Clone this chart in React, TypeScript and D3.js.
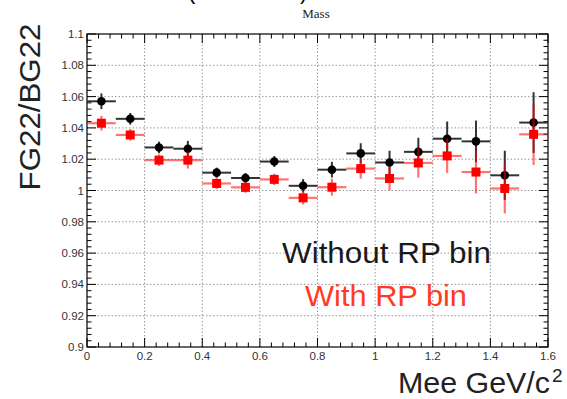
import React from "react";
import * as d3 from "d3";

const binCenters = [0.05, 0.15, 0.25, 0.35, 0.45, 0.55, 0.65, 0.75, 0.85, 0.95, 1.05, 1.15, 1.25, 1.35, 1.45, 1.55];
const binHalfWidth = 0.05;
const withoutRP = [1.057, 1.0458, 1.0275, 1.0267, 1.0114, 1.008, 1.0185, 1.003, 1.0133, 1.0237, 1.0179, 1.0247, 1.0331, 1.0314, 1.0097, 1.0434];
const withoutErr = [0.005, 0.0037, 0.0037, 0.005, 0.0032, 0.0032, 0.0035, 0.0043, 0.005, 0.0065, 0.0075, 0.009, 0.011, 0.0133, 0.0157, 0.0194];
const withRP = [1.043, 1.0355, 1.0194, 1.0194, 1.0045, 1.002, 1.0071, 0.9953, 1.0021, 1.014, 1.0077, 1.0176, 1.0221, 1.0118, 1.0013, 1.0359];
const withErr = [0.0047, 0.0037, 0.0037, 0.0054, 0.0035, 0.0035, 0.0037, 0.0043, 0.0054, 0.0065, 0.0077, 0.0094, 0.011, 0.0137, 0.016, 0.0196];
const xMajorTicks = [0, 0.2, 0.4, 0.6, 0.8, 1, 1.2, 1.4, 1.6];
const yMajorTicks = [0.9, 0.92, 0.94, 0.96, 0.98, 1, 1.02, 1.04, 1.06, 1.08, 1.1];

const W = 567, H = 399;
const L = 87, R = 548, T = 34, B = 347;

export default function App() {
  const x = d3.scaleLinear().domain([0, 1.6]).range([L, R]);
  const y = d3.scaleLinear().domain([0.9, 1.1]).range([B, T]);
  const xMinor = d3.range(0, 1.6001, 0.04);
  const yMinor = d3.range(0.9, 1.1001, 0.004);
  const fmt = d3.format("~g");
  const sans = "'Liberation Sans', Arial, sans-serif";
  const majLen = 9, minLen = 4.5;

  return (
    <svg width={W} height={H} style={{ position: "absolute", left: 0, top: 0, background: "#fff" }}>
      {/* partially cut top title */}
      <text x={188} y={-1} fontSize={22} fontFamily={sans} fill="#000">(</text>
      <text x={300} y={-1} fontSize={22} fontFamily={sans} fill="#000">)</text>
      <text x={316} y={18} fontSize={13} fontFamily="'Liberation Serif', 'DejaVu Serif', serif" textAnchor="middle" fill="#222">Mass</text>

      {/* grid */}
      <g stroke="#999" strokeWidth={1} strokeDasharray="1.5,2">
        {xMajorTicks.slice(1, -1).map((t) => (
          <line key={"gx" + t} x1={x(t)} x2={x(t)} y1={T} y2={B} />
        ))}
        {yMajorTicks.slice(1, -1).map((t) => (
          <line key={"gy" + t} x1={L} x2={R} y1={y(t)} y2={y(t)} />
        ))}
      </g>

      {/* ticks */}
      <g stroke="#000" strokeWidth={1}>
        {xMinor.map((t, i) => {
          const len = i % 5 === 0 ? majLen : minLen;
          return (
            <g key={"tx" + i}>
              <line x1={x(t)} x2={x(t)} y1={B} y2={B - len} />
              <line x1={x(t)} x2={x(t)} y1={T} y2={T + len} />
            </g>
          );
        })}
        {yMinor.map((t, i) => {
          const len = i % 5 === 0 ? majLen : minLen;
          return (
            <g key={"ty" + i}>
              <line x1={L} x2={L + len} y1={y(t)} y2={y(t)} />
              <line x1={R} x2={R - len} y1={y(t)} y2={y(t)} />
            </g>
          );
        })}
      </g>

      {/* frame */}
      <rect x={L} y={T} width={R - L} height={B - T} fill="none" stroke="#000" strokeWidth={1.2} />

      {/* tick labels */}
      <g fontFamily={sans} fontSize={11.5} fill="#333">
        {yMajorTicks.map((t) => (
          <text key={"ly" + t} x={L - 3} y={y(t) + 4} textAnchor="end">{fmt(t)}</text>
        ))}
        {xMajorTicks.map((t) => (
          <text key={"lx" + t} x={x(t)} y={B + 13} textAnchor="middle">{fmt(t)}</text>
        ))}
      </g>

      {/* axis titles */}
      <text transform={`translate(40,107) rotate(-90)`} textAnchor="middle" fontFamily={sans} fontSize={30} fill="#222" textLength={167} lengthAdjust="spacingAndGlyphs">FG22/BG22</text>
      <text x={398} y={393} fontFamily={sans} fontSize={29} fill="#222" textLength={152} lengthAdjust="spacingAndGlyphs">Mee GeV/c</text>
      <text x={552} y={382} fontFamily={sans} fontSize={19} fill="#222">2</text>

      {/* Without RP bin (black) */}
      <g stroke="#333" strokeWidth={2}>
        {binCenters.map((c, i) => (
          <g key={"bk" + i}>
            <line x1={x(c - binHalfWidth)} x2={x(c + binHalfWidth)} y1={y(withoutRP[i])} y2={y(withoutRP[i])} />
            <line x1={x(c)} x2={x(c)} y1={y(withoutRP[i] - withoutErr[i])} y2={y(withoutRP[i] + withoutErr[i])} />
          </g>
        ))}
      </g>
      <g fill="#000">
        {binCenters.map((c, i) => (
          <circle key={"bc" + i} cx={x(c)} cy={y(withoutRP[i])} r={4.3} />
        ))}
      </g>

      {/* With RP bin (red) */}
      <g stroke="#ff0000" strokeOpacity={0.55} strokeWidth={2.2}>
        {binCenters.map((c, i) => (
          <g key={"rk" + i}>
            <line x1={x(c - binHalfWidth)} x2={x(c + binHalfWidth)} y1={y(withRP[i])} y2={y(withRP[i])} />
            <line x1={x(c)} x2={x(c)} y1={y(withRP[i] - withErr[i])} y2={y(withRP[i] + withErr[i])} />
          </g>
        ))}
      </g>
      <g fill="#ff0000">
        {binCenters.map((c, i) => (
          <rect key={"rs" + i} x={x(c) - 4.5} y={y(withRP[i]) - 4.5} width={9} height={9} />
        ))}
      </g>

      {/* legend texts */}
      <text x={282} y={263} fontFamily={sans} fontSize={29} fill="#1a1a1a" textLength={209} lengthAdjust="spacingAndGlyphs">Without RP bin</text>
      <text x={305} y={306} fontFamily={sans} fontSize={29} fill="#ff3b1f" textLength={162} lengthAdjust="spacingAndGlyphs">With RP bin</text>
    </svg>
  );
}
